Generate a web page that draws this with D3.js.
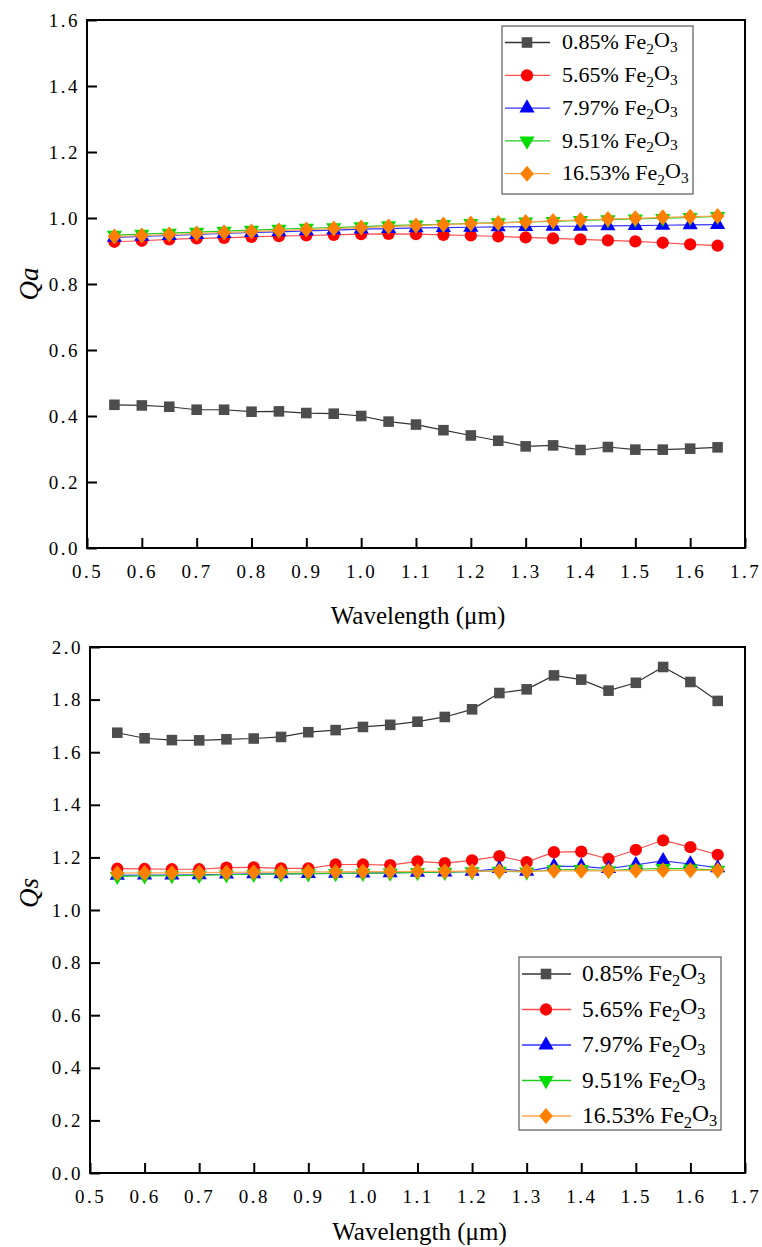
<!DOCTYPE html>
<html>
<head>
<meta charset="utf-8">
<script src="https://cdn.jsdelivr.net/npm/d3@7"></script>
<style>
body { margin: 0; background: #fff; }
svg { display: block; font-family: "Liberation Serif", "DejaVu Serif", serif; }
.tick line { stroke: #000; stroke-width: 2px; }
</style>
</head>
<body>
<svg></svg>
<script>
var wavelength = [0.55, 0.60, 0.65, 0.70, 0.75, 0.80, 0.85, 0.90, 0.95, 1.00, 1.05, 1.10,
                  1.15, 1.20, 1.25, 1.30, 1.35, 1.40, 1.45, 1.50, 1.55, 1.60, 1.65];
var xTicks = [0.5, 0.6, 0.7, 0.8, 0.9, 1.0, 1.1, 1.2, 1.3, 1.4, 1.5, 1.6, 1.7];
var qaTicks = [0.0, 0.2, 0.4, 0.6, 0.8, 1.0, 1.2, 1.4, 1.6];
var qsTicks = [0.0, 0.2, 0.4, 0.6, 0.8, 1.0, 1.2, 1.4, 1.6, 1.8, 2.0];
var labels = ["0.85%", "5.65%", "7.97%", "9.51%", "16.53%"];

var markColors = ["#4d4d4d", "#ff0000", "#0000ff", "#00dd00", "#ff8000"];
var lineColors = ["#333333", "#ff4d4d", "#3333ff", "#22cc22", "#ffa54d"];

// absorption efficiency
var qa085  = [0.434, 0.432, 0.428, 0.419, 0.419, 0.413, 0.414, 0.409, 0.407, 0.400, 0.383, 0.374,
              0.357, 0.341, 0.325, 0.308, 0.311, 0.297, 0.306, 0.298, 0.298, 0.301, 0.305];
var qa565  = [0.928, 0.931, 0.935, 0.938, 0.940, 0.943, 0.945, 0.947, 0.949, 0.951, 0.952, 0.951,
              0.949, 0.947, 0.944, 0.941, 0.938, 0.935, 0.932, 0.929, 0.925, 0.920, 0.916];
var qa797  = [0.941, 0.944, 0.947, 0.950, 0.953, 0.956, 0.958, 0.961, 0.963, 0.966, 0.968, 0.970,
              0.971, 0.972, 0.973, 0.974, 0.975, 0.975, 0.976, 0.977, 0.978, 0.979, 0.980];
var qa951  = [0.948, 0.951, 0.954, 0.957, 0.960, 0.963, 0.966, 0.969, 0.971, 0.974, 0.977, 0.979,
              0.981, 0.984, 0.986, 0.988, 0.990, 0.993, 0.995, 0.997, 0.999, 1.002, 1.005];
var qa1653 = [0.944, 0.947, 0.950, 0.953, 0.956, 0.959, 0.962, 0.965, 0.968, 0.971, 0.974, 0.977,
              0.980, 0.983, 0.985, 0.988, 0.991, 0.994, 0.997, 0.999, 1.002, 1.004, 1.006];

// scattering efficiency
var qs085  = [1.674, 1.653, 1.646, 1.645, 1.649, 1.652, 1.658, 1.676, 1.684, 1.696, 1.704, 1.716,
              1.734, 1.763, 1.825, 1.839, 1.892, 1.876, 1.834, 1.864, 1.924, 1.867, 1.795];
var qs565  = [1.157, 1.156, 1.155, 1.155, 1.161, 1.162, 1.158, 1.158, 1.173, 1.173, 1.171, 1.185,
              1.178, 1.189, 1.205, 1.182, 1.220, 1.222, 1.194, 1.229, 1.265, 1.239, 1.210];
var qs797  = [1.132, 1.133, 1.133, 1.134, 1.136, 1.137, 1.137, 1.138, 1.139, 1.140, 1.141, 1.143,
              1.144, 1.147, 1.157, 1.147, 1.166, 1.166, 1.157, 1.172, 1.187, 1.175, 1.160];
var qs951  = [1.128, 1.130, 1.131, 1.132, 1.134, 1.136, 1.137, 1.138, 1.139, 1.140, 1.141, 1.143,
              1.144, 1.146, 1.148, 1.145, 1.153, 1.154, 1.150, 1.155, 1.158, 1.156, 1.152];
var qs1653 = [1.140, 1.141, 1.141, 1.142, 1.143, 1.144, 1.144, 1.145, 1.145, 1.146, 1.146, 1.147,
              1.147, 1.148, 1.148, 1.148, 1.149, 1.149, 1.149, 1.150, 1.151, 1.151, 1.151];

var svg = d3.select("svg")
    .attr("width", 762)
    .attr("height", 1247);

var fmt = d3.format(".1f");
var serif = "'Liberation Serif', 'DejaVu Serif', serif";

var panels = [
  {left: 87, right: 745, top: 20, bottom: 548, yMax: 1.6, yTicks: qaTicks,
   series: [qa085, qa565, qa797, qa951, qa1653], title: "Qa", titleX: 29, titleY: 284, xTitleY: 624,
   legend: {x: 502, y: 26, w: 191, h: 168, first: 16.5, row: 32.8, font: 22, x1: 3, x2: 48, mx: 25, tx: 60}},
  {left: 90, right: 745, top: 647, bottom: 1173, yMax: 2.0, yTicks: qsTicks,
   series: [qs085, qs565, qs797, qs951, qs1653], title: "Qs", titleX: 29, titleY: 893, xTitleY: 1240,
   legend: {x: 519, y: 957, w: 202, h: 173, first: 17, row: 35.5, font: 23.5, x1: 3, x2: 52, mx: 27, tx: 63}}
];

function markerPath(i) {
  if (i === 0) return d3.symbol(d3.symbolSquare, 112)();
  if (i === 1) return d3.symbol(d3.symbolCircle, 118)();
  if (i === 2 || i === 3) return d3.symbol(d3.symbolTriangle, 100)();
  return "M0,-8L6.8,0L0,8L-6.8,0Z";
}

function addMarker(parent, i, x, y) {
  parent.append("path")
      .attr("d", markerPath(i))
      .attr("transform", "translate(" + x + "," + y + ")" + (i === 3 ? " rotate(180)" : ""))
      .attr("fill", markColors[i]);
}

panels.forEach(function(p) {
  var x = d3.scaleLinear().domain([0.5, 1.7]).range([p.left, p.right]);
  var y = d3.scaleLinear().domain([0, p.yMax]).range([p.bottom, p.top]);
  var g = svg.append("g");

  // x axis, ticks pointing in
  var xa = g.append("g")
      .attr("transform", "translate(0," + p.bottom + ")")
      .call(d3.axisBottom(x).tickValues(xTicks).tickFormat(fmt).tickSize(-10).tickPadding(17));
  xa.select(".domain").remove();

  var ya = g.append("g")
      .attr("transform", "translate(" + p.left + ",0)")
      .call(d3.axisLeft(y).tickValues(p.yTicks).tickFormat(fmt).tickSize(-10).tickPadding(7));
  ya.select(".domain").remove();

  g.selectAll(".tick text")
      .attr("font-family", serif)
      .attr("font-size", 19)
      .attr("letter-spacing", "2.5px")
      .attr("fill", "#000");
  [xa, ya].forEach(function(a) { a.attr("font-family", null).attr("font-size", null); });

  g.append("rect")
      .attr("x", p.left).attr("y", p.top)
      .attr("width", p.right - p.left).attr("height", p.bottom - p.top)
      .attr("fill", "none").attr("stroke", "#000").attr("stroke-width", 2);

  var line = d3.line()
      .x(function(d, i) { return x(wavelength[i]); })
      .y(function(d) { return y(d); });

  p.series.forEach(function(s, i) {
    g.append("path")
        .datum(s)
        .attr("d", line)
        .attr("fill", "none")
        .attr("stroke", lineColors[i])
        .attr("stroke-width", 1.2);
    s.forEach(function(v, j) {
      addMarker(g, i, x(wavelength[j]), y(v));
    });
  });

  g.append("text")
      .attr("font-family", serif)
      .attr("font-size", 25)
      .attr("x", (p.left + p.right) / 2 + 2)
      .attr("y", p.xTitleY)
      .attr("text-anchor", "middle")
      .text("Wavelength (\u03bcm)");

  g.append("text")
      .attr("font-family", serif)
      .attr("transform", "translate(" + p.titleX + "," + p.titleY + ") rotate(-90)")
      .attr("text-anchor", "middle")
      .attr("dy", "0.35em")
      .attr("font-style", "italic")
      .attr("font-size", 27)
      .text(p.title);

  // legend
  var L = p.legend;
  var lg = g.append("g")
      .attr("transform", "translate(" + L.x + "," + L.y + ")");
  lg.append("rect")
      .attr("width", L.w).attr("height", L.h)
      .attr("fill", "#fff").attr("stroke", "#666").attr("stroke-width", 1.3);
  labels.forEach(function(name, i) {
    var ry = L.first + i * L.row;
    lg.append("line")
        .attr("x1", L.x1).attr("x2", L.x2).attr("y1", ry).attr("y2", ry)
        .attr("stroke", lineColors[i]).attr("stroke-width", 1.3);
    addMarker(lg, i, L.mx, ry);
    var t = lg.append("text")
        .attr("x", L.tx).attr("y", ry)
        .attr("dy", "0.3em")
        .attr("font-family", serif)
        .attr("font-size", L.font);
    t.append("tspan").text(name + " Fe");
    t.append("tspan").attr("dy", "0.3em").attr("font-size", "70%").text("2");
    t.append("tspan").attr("dy", "-0.3em").text("O");
    t.append("tspan").attr("dy", "0.3em").attr("font-size", "70%").text("3");
  });
});
</script>
</body>
</html>
